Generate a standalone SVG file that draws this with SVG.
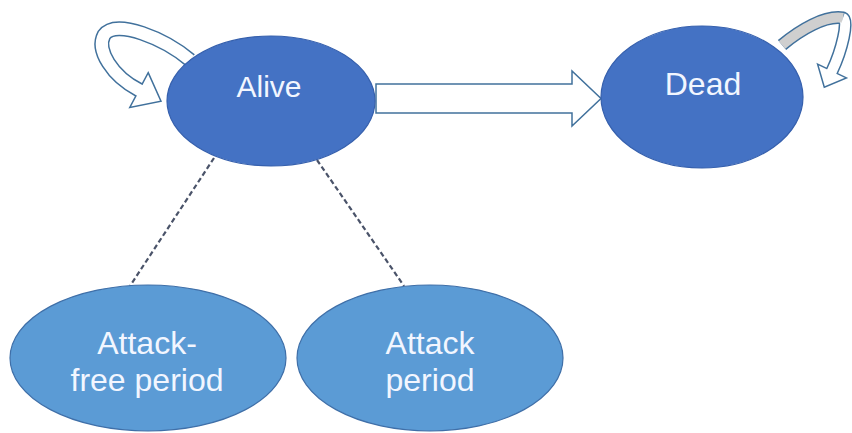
<svg xmlns="http://www.w3.org/2000/svg" width="852" height="433" viewBox="0 0 852 433">
<style>
.state{fill:#4472c4;stroke:#3660ad;stroke-width:1.2}
.sub{fill:#5b9bd5;stroke:#3f6fa8;stroke-width:1.2}
.lbl{font-family:"Liberation Sans",Arial,sans-serif;fill:#f2f6ff;text-anchor:middle}
.dash{stroke:#4a5369;stroke-width:2.2;stroke-dasharray:5 3;fill:none}
.outl{fill:none;stroke:#41719c;stroke-linecap:butt}
.head{fill:#ffffff;stroke:#41719c;stroke-width:1.5;stroke-linejoin:miter}
</style>
<rect width="852" height="433" fill="#ffffff"/>
<g id="connectors">
  <line class="dash" x1="214" y1="158" x2="130" y2="286"/>
  <line class="dash" x1="317" y1="160" x2="404" y2="286"/>
  <polygon class="head" points="376,84 572,84 572,71 601,98.5 572,126 572,113 376,113"/>
  <g id="loop-alive">
    <path class="outl" stroke-width="15" d="M 190 60 C 165 39, 116 18, 104 35 C 96 50, 112 76, 139 90"/>
    <polygon class="head" points="148.2,72.6 161,101.3 129.8,107.4"/>
    <path fill="none" stroke="#ffffff" stroke-width="12" d="M 190 60 C 165 39, 116 18, 104 35 C 96 50, 112 76, 139 90 l 1.8 0.9"/>
  </g>
  <g id="loop-dead">
    <path class="outl" stroke-width="13" d="M 782 45 C 800 30, 825 15, 843 18 C 849 20, 842 50, 832 71"/>
    <polygon class="head" points="817.6,64.1 846.4,77.9 824.3,87.2"/>
    <path fill="none" stroke="#cfcfcf" stroke-width="10" d="M 782 45 C 800 30, 825 15, 843 18"/>
    <path fill="none" stroke="#ffffff" stroke-width="10" d="M 843 18 C 849 20, 842 50, 832 71 l -0.9 1.8"/>
  </g>
</g>
<g id="alive">
  <ellipse class="state" cx="271" cy="101" rx="104" ry="65"/>
  <text class="lbl" x="269" y="97" font-size="30">Alive</text>
</g>
<g id="dead">
  <ellipse class="state" cx="702" cy="97" rx="101" ry="71"/>
  <text class="lbl" x="703" y="95" font-size="32">Dead</text>
</g>
<g id="attack-free">
  <ellipse class="sub" cx="148" cy="358" rx="138" ry="73"/>
  <text class="lbl" x="147" y="354" font-size="32">Attack-</text>
  <text class="lbl" x="147" y="391" font-size="32">free period</text>
</g>
<g id="attack">
  <ellipse class="sub" cx="430" cy="358" rx="133" ry="73"/>
  <text class="lbl" x="430" y="354" font-size="32">Attack</text>
  <text class="lbl" x="430" y="391" font-size="32">period</text>
</g>
</svg>
